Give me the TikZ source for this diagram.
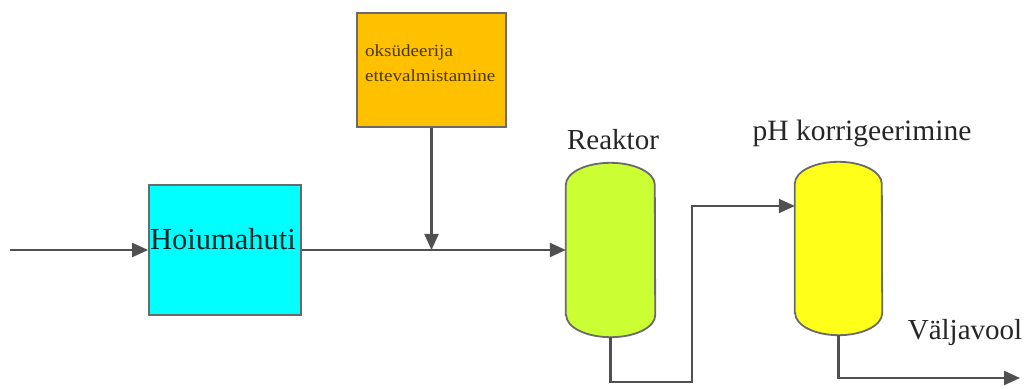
\documentclass[tikz,border=0pt]{standalone}
\usepackage{fontspec}
\setmainfont{Liberation Serif}
\usetikzlibrary{arrows.meta}
\definecolor{linegray}{HTML}{505050}
\definecolor{edgegray}{HTML}{6A6A6A}
\definecolor{cyanfill}{HTML}{00FFFF}
\definecolor{orangefill}{HTML}{FFC000}
\definecolor{greenfill}{HTML}{CCFF33}
\definecolor{yellowfill}{HTML}{FFFF1A}
\definecolor{labeltext}{HTML}{262626}
\definecolor{olivetext}{HTML}{4A3800}
\definecolor{tealtext}{HTML}{0A2626}
\tikzset{
  x=1pt, y=1pt,
  flow/.style={draw=linegray, line width=2.2pt, -{Triangle[length=16pt,width=14pt]}},
  boxnode/.style={draw=edgegray, line width=1.8pt, inner sep=0pt},
  vesselnode/.style={inner sep=0pt, draw=none},
  vesseldraw/.style={draw=edgegray, line width=1.8pt},
  biglabel/.style={font=\fontsize{29}{33}\selectfont, text=labeltext, inner sep=0pt},
  smalllabel/.style={font=\fontsize{17}{20}\selectfont, text=olivetext, inner sep=0pt, anchor=base west},
}
\begin{document}
\begin{tikzpicture}
\useasboundingbox (0,0) rectangle (1027,388);
\fill[white] (0,0) rectangle (1027,388);

% boxes
\node[boxnode, fill=cyanfill, minimum width=152pt, minimum height=130pt] (H) at (225,138) {};
\node[boxnode, fill=orangefill, minimum width=149pt, minimum height=114pt] (O) at (431.5,318) {};
\node[font=\fontsize{30.5}{34}\selectfont, text=tealtext, inner sep=0pt, anchor=base] (Ht) at (223,138) {Hoiumahuti};
\node[smalllabel] (Ot1) at (365,331) {\scalebox{1.12}[1]{oksüdeerija}};
\node[smalllabel] (Ot2) at (365,306) {\scalebox{1.12}[1]{ettevalmistamine}};

% vessels
\node[vesselnode, minimum width=89pt, minimum height=174pt] (R) at (610.5,138) {};
\node[vesselnode, minimum width=87pt, minimum height=173pt] (P) at (838.5,139.5) {};
\draw[vesseldraw, fill=greenfill]
  ([yshift=22pt]R.south west) -- ([yshift=-22pt]R.north west)
  arc[start angle=180, end angle=0, x radius=44.5pt, y radius=22pt]
  -- ([yshift=22pt]R.south east)
  arc[start angle=0, end angle=-180, x radius=44.5pt, y radius=22pt] -- cycle;
\draw[vesseldraw, fill=yellowfill]
  ([yshift=22pt]P.south west) -- ([yshift=-22pt]P.north west)
  arc[start angle=180, end angle=0, x radius=43.5pt, y radius=22pt]
  -- ([yshift=22pt]P.south east)
  arc[start angle=0, end angle=-180, x radius=43.5pt, y radius=22pt] -- cycle;

% labels
\node[biglabel] (Rl) at (613,248) {Reaktor};
\node[biglabel, font=\fontsize{29.5}{33}\selectfont] (Pl) at (862,255) {pH korrigeerimine};
\node[biglabel] (Vl) at (965,55) {Väljavool};

% connector points
\coordinate (in) at (10,138);
\coordinate (k1) at (692,6);
\coordinate (k2) at (692,182);
\coordinate (out) at (1020,10);

% connectors
\draw[flow] (in) -- (H.west);
\draw[flow] (H.east) -- (R.west);
\draw[flow] (O.south) -- (O.south |- H.east);
\draw[flow] (R.south) -- (R.south |- k1) -- (k1) -- (k2) -- (k2 -| P.west);
\draw[flow] (P.south) -- (P.south |- out) -- (out);
\end{tikzpicture}
\end{document}
